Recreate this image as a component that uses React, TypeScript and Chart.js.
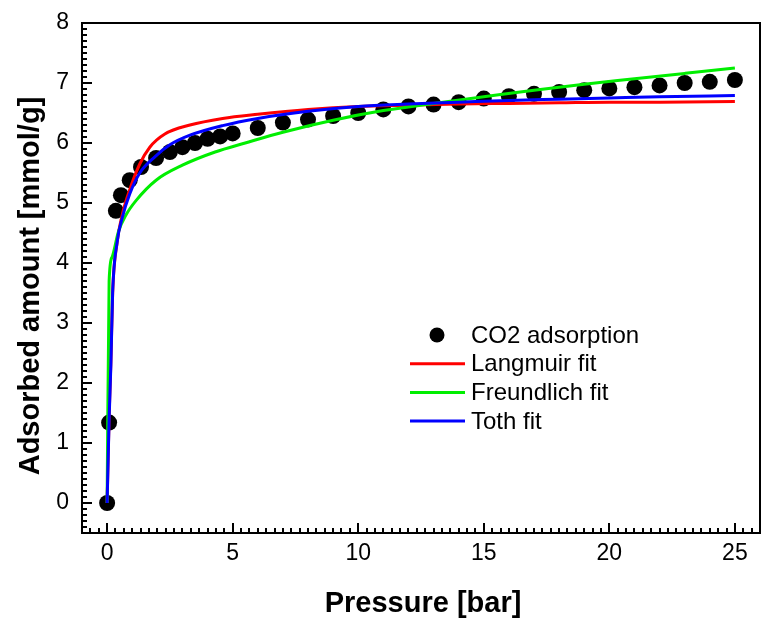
import React, { useEffect, useRef } from 'react';
import { Chart, registerables } from 'chart.js';

Chart.register(...registerables);

// ---- data ----
const pressureBar = [0, 0.08, 0.35, 0.55, 0.9, 1.35, 1.95, 2.5, 3, 3.5, 4, 4.5, 5, 6, 7, 8, 9, 10, 11, 12, 13, 14, 15, 16, 17, 18, 19, 20, 21, 22, 23, 24, 25];
const co2Adsorbed = [0, 1.34, 4.87, 5.13, 5.38, 5.6, 5.75, 5.85, 5.93, 6.0, 6.07, 6.11, 6.16, 6.25, 6.34, 6.39, 6.45, 6.5, 6.56, 6.61, 6.64, 6.68, 6.74, 6.78, 6.82, 6.85, 6.88, 6.91, 6.93, 6.96, 7.0, 7.02, 7.05];

const langmuirP = [0, 0.08, 0.15, 0.22, 0.4, 0.6, 0.9, 1.3, 1.7, 2.3, 3.3, 4.6, 6, 8, 10, 12, 14, 16, 18, 20, 22, 25];
const langmuirQ = [0, 1.45, 2.35, 3.5, 4.35, 4.8, 5.22, 5.65, 5.93, 6.15, 6.3, 6.41, 6.48, 6.56, 6.61, 6.63, 6.65, 6.66, 6.67, 6.68, 6.68, 6.69];

const freundlichP = [0, 0.08, 0.2, 0.45, 0.75, 1.15, 1.95, 3, 4.3, 5.5, 7, 9, 11, 13, 15, 17, 19, 21, 23, 25];
const freundlichQ = [0, 3.7, 4.1, 4.52, 4.8, 5.04, 5.38, 5.63, 5.85, 6.0, 6.18, 6.38, 6.54, 6.66, 6.77, 6.88, 6.98, 7.07, 7.16, 7.25];

const tothP = [0, 0.08, 0.15, 0.22, 0.4, 0.6, 0.9, 1.3, 1.9, 2.5, 3.3, 4.6, 6, 8, 10, 12, 14, 16, 18, 20, 22, 25];
const tothQ = [0, 1.4, 2.3, 3.5, 4.35, 4.75, 5.15, 5.5, 5.77, 5.97, 6.13, 6.29, 6.41, 6.53, 6.61, 6.65, 6.68, 6.71, 6.73, 6.75, 6.77, 6.79];

const seriesLabels = ['CO2 adsorption', 'Langmuir fit', 'Freundlich fit', 'Toth fit'];
const xTickValues = [0, 5, 10, 15, 20, 25];
const yTickValues = [0, 1, 2, 3, 4, 5, 6, 7, 8];
const xAxisTitle = 'Pressure [bar]';
const yAxisTitle = 'Adsorbed amount [mmol/g]';

const FONT = '"Liberation Sans", Arial, sans-serif';

const toPoints = (xs: number[], ys: number[]) => xs.map((x, i) => ({ x, y: ys[i] }));

const frameAndTicks = {
  id: 'frameAndTicks',
  afterDatasetsDraw(chart: any) {
    const { ctx, chartArea, scales } = chart;
    const { left, right, top, bottom } = chartArea;
    const xs = scales.x;
    const ys = scales.y;
    ctx.save();
    ctx.strokeStyle = '#000';
    ctx.lineWidth = 2;
    ctx.beginPath();
    // x minor ticks every 1/3, major every 5
    for (let k = -3; k <= 78; k++) {
      const v = k / 3;
      const px = Math.round(xs.getPixelForValue(v));
      const major = k % 15 === 0;
      const len = major ? 10 : 5;
      ctx.moveTo(px, bottom);
      ctx.lineTo(px, bottom - len);
    }
    // y minor ticks every 0.1, major every 1
    for (let k = -5; k <= 80; k++) {
      const v = k / 10;
      const py = Math.round(ys.getPixelForValue(v));
      const major = k % 10 === 0;
      const len = major ? 10 : 5;
      ctx.moveTo(left, py);
      ctx.lineTo(left + len, py);
    }
    ctx.stroke();
    ctx.strokeRect(left, top, right - left, bottom - top);
    ctx.restore();
  },
};

const axisTitles = {
  id: 'axisTitles',
  afterDraw(chart: any) {
    const { ctx, chartArea } = chart;
    ctx.save();
    ctx.fillStyle = '#000';
    ctx.font = `bold 29px ${FONT}`;
    ctx.textAlign = 'center';
    ctx.textBaseline = 'middle';
    ctx.fillText(xAxisTitle, (chartArea.left + chartArea.right) / 2 + 2, 604);
    ctx.translate(31, (chartArea.top + chartArea.bottom) / 2 + 8);
    ctx.rotate(-Math.PI / 2);
    ctx.fillText(yAxisTitle, 0, 0);
    ctx.restore();
  },
};

const customLegend = {
  id: 'customLegend',
  afterDraw(chart: any) {
    const { ctx } = chart;
    const ds = chart.data.datasets;
    const x0 = 410;
    const y0 = 335;
    const rowH = 28.7;
    ctx.save();
    ctx.font = `24px ${FONT}`;
    ctx.textBaseline = 'middle';
    ctx.textAlign = 'left';
    ds.forEach((d: any, i: number) => {
      const yy = y0 + i * rowH;
      if (i === 0) {
        ctx.fillStyle = d.backgroundColor;
        ctx.beginPath();
        ctx.arc(437, yy, 7.5, 0, Math.PI * 2);
        ctx.fill();
      } else {
        ctx.strokeStyle = d.borderColor;
        ctx.lineWidth = 3;
        ctx.beginPath();
        ctx.moveTo(x0, yy);
        ctx.lineTo(x0 + 55, yy);
        ctx.stroke();
      }
      ctx.fillStyle = '#000';
      ctx.fillText(d.label, 471, yy + 1);
    });
    ctx.restore();
  },
};

const noAutoPadding = (s: any) => {
  s.paddingTop = 0;
  s.paddingBottom = 0;
  s.paddingLeft = 0;
  s.paddingRight = 0;
};

export default function App() {
  const ref = useRef<HTMLCanvasElement | null>(null);

  useEffect(() => {
    if (!ref.current) return;
    const fitLine = (label: string, color: string, xs: number[], ys: number[], order: number) => ({
      label,
      data: toPoints(xs, ys),
      showLine: true,
      borderColor: color,
      backgroundColor: color,
      borderWidth: 3,
      pointRadius: 0,
      cubicInterpolationMode: 'monotone' as const,
      order,
    });
    const chart = new Chart(ref.current, {
      type: 'scatter',
      data: {
        datasets: [
          {
            label: seriesLabels[0],
            data: toPoints(pressureBar, co2Adsorbed),
            backgroundColor: '#000000',
            borderColor: '#000000',
            pointRadius: 8,
            pointBorderWidth: 0,
            showLine: false,
            order: 3,
          },
          fitLine(seriesLabels[1], '#ff0000', langmuirP, langmuirQ, 2),
          fitLine(seriesLabels[2], '#00ee00', freundlichP, freundlichQ, 1),
          fitLine(seriesLabels[3], '#0000ff', tothP, tothQ, 0),
        ],
      },
      options: {
        animation: false,
        responsive: false,
        maintainAspectRatio: false,
        layout: { autoPadding: false, padding: { top: 23, right: 2, left: 0, bottom: 0 } },
        plugins: {
          legend: { display: false },
          tooltip: { enabled: false },
        },
        scales: {
          x: {
            type: 'linear',
            min: -1,
            max: 26,
            grid: { display: false, drawTicks: false },
            border: { display: false },
            afterBuildTicks: (s: any) => {
              s.ticks = xTickValues.map((v) => ({ value: v }));
            },
            afterFit: (s: any) => {
              s.height = 90;
              noAutoPadding(s);
            },
            ticks: {
              color: '#000',
              font: { family: FONT, size: 23 },
              padding: 7,
              maxRotation: 0,
              autoSkip: false,
            },
            title: { display: false },
          },
          y: {
            type: 'linear',
            min: -0.5,
            max: 8,
            grid: { display: false, drawTicks: false },
            border: { display: false },
            afterBuildTicks: (s: any) => {
              s.ticks = yTickValues.map((v) => ({ value: v }));
            },
            afterFit: (s: any) => {
              s.width = 82;
              noAutoPadding(s);
            },
            ticks: {
              color: '#000',
              font: { family: FONT, size: 23 },
              padding: 13,
              autoSkip: false,
            },
            title: { display: false },
          },
        },
      },
      plugins: [frameAndTicks, axisTitles, customLegend],
    } as any);
    return () => chart.destroy();
  }, []);

  return (
    <div style={{ position: 'fixed', left: 0, top: 0, width: 762, height: 623, background: '#fff' }}>
      <canvas ref={ref} width={762} height={623} style={{ display: 'block' }} />
    </div>
  );
}
